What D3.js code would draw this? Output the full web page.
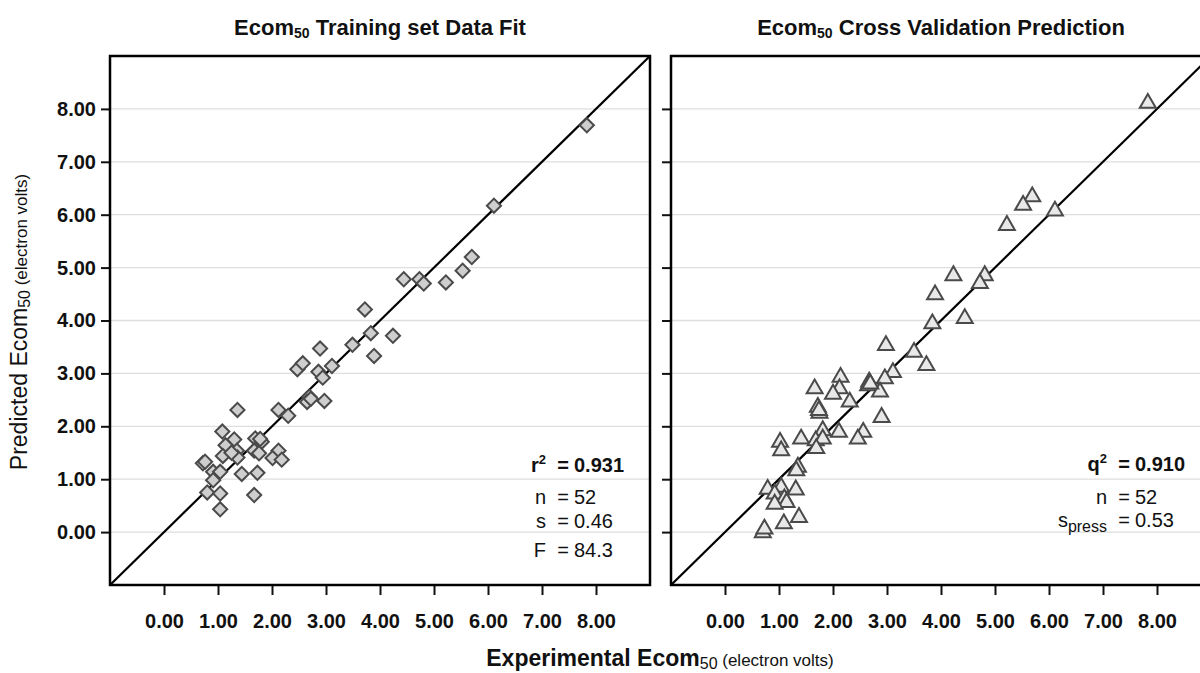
<!DOCTYPE html>
<html>
<head>
<meta charset="utf-8">
<script src="https://cdn.jsdelivr.net/npm/d3@7"></script>
<style>
    body { margin: 0; background: #ffffff; }
    svg { display: block; font-family: "Liberation Sans", Arial, sans-serif; }
</style>
</head>
<body>
<div id="chart"></div>
<script>
'use strict';

// training set fit: experimental vs predicted
const trainX = [7.83, 6.11, 5.70, 5.53, 5.22, 4.44, 4.73, 4.81, 3.72, 3.83, 4.24, 3.49, 3.89, 2.89, 2.47, 2.57, 3.11,
    2.86, 2.94, 2.69, 2.65, 2.97, 2.30, 2.12, 1.36, 1.08, 1.30, 1.14, 1.69, 1.81, 1.35, 1.09, 1.36, 1.67, 1.76,
    2.12, 2.01, 2.18, 0.72, 0.76, 0.91, 1.04, 1.44, 1.73, 0.91, 0.80, 1.04, 1.67, 1.04, 1.78, 1.25, 2.72];
const trainY = [7.69, 6.17, 5.20, 4.94, 4.72, 4.78, 4.78, 4.70, 4.21, 3.76, 3.71, 3.54, 3.33, 3.47, 3.08, 3.19, 3.14,
    3.03, 2.92, 2.56, 2.46, 2.48, 2.20, 2.31, 2.31, 1.90, 1.75, 1.64, 1.77, 1.71, 1.54, 1.44, 1.41, 1.54, 1.49,
    1.54, 1.40, 1.37, 1.30, 1.33, 1.14, 1.14, 1.10, 1.12, 0.98, 0.75, 0.73, 0.70, 0.43, 1.76, 1.50, 2.52];

// cross validation: experimental vs predicted
const cvX = [7.83, 6.11, 5.69, 5.52, 5.22, 4.23, 4.81, 4.72, 3.89, 4.44, 3.84, 2.98, 3.50, 3.73, 3.11, 2.96, 2.67,
    2.65, 2.87, 2.14, 2.12, 2.00, 2.31, 1.66, 1.72, 1.75, 2.90, 1.81, 2.11, 2.56, 2.46, 1.41, 1.68, 1.81, 1.69,
    1.02, 1.04, 1.35, 1.32, 0.79, 1.04, 0.92, 1.10, 1.14, 0.92, 1.31, 1.09, 1.37, 0.70, 0.73, 2.69, 1.74];
const cvY = [8.11, 6.07, 6.34, 6.18, 5.80, 4.85, 4.85, 4.70, 4.49, 4.04, 3.94, 3.53, 3.40, 3.15, 3.02, 2.90, 2.84,
    2.77, 2.65, 2.93, 2.71, 2.61, 2.46, 2.71, 2.36, 2.25, 2.17, 1.92, 1.89, 1.89, 1.76, 1.76, 1.73, 1.76, 1.58,
    1.70, 1.54, 1.23, 1.16, 0.81, 0.85, 0.72, 0.63, 0.56, 0.53, 0.80, 0.16, 0.28, -0.01, 0.06, 2.80, 2.30];

const tickValues = [0, 1, 2, 3, 4, 5, 6, 7, 8];
const axisDomain = [-1, 9];

const trainStats = [
    { label: "r", sup: "2", value: "0.931", bold: true },
    { label: "n", value: "52" },
    { label: "s", value: "0.46" },
    { label: "F", value: "84.3" }
];
const cvStats = [
    { label: "q", sup: "2", value: "0.910", bold: true },
    { label: "n", value: "52" },
    { label: "s", sub: "press", value: "0.53" }
];

const width = 1200, height = 673;
const svg = d3.select("#chart")
    .append("svg")
    .attr("width", width)
    .attr("height", height);

function drawPanel(cfg) {
    let x = d3.scaleLinear().domain(axisDomain).range([cfg.left, cfg.left + 540]);
    let y = d3.scaleLinear().domain(axisDomain).range([585, 56]);
    let g = svg.append("g").attr("id", cfg.id);

    // clip so the diagonal stays inside the frame
    g.append("clipPath")
        .attr("id", cfg.id + "-clip")
        .append("rect")
        .attr("x", x(-1)).attr("y", y(9))
        .attr("width", x(9) - x(-1)).attr("height", y(-1) - y(9));

    // horizontal gridlines
    g.append("g")
        .selectAll("line")
        .data(tickValues)
        .enter()
        .append("line")
        .attr("x1", x(-1)).attr("x2", x(9))
        .attr("y1", d => y(d)).attr("y2", d => y(d))
        .attr("stroke", "#dedede")
        .attr("stroke-width", 1.3);

    // title
    let title = g.append("text")
        .attr("x", (x(-1) + x(9)) / 2)
        .attr("y", 35)
        .attr("text-anchor", "middle")
        .attr("font-size", 22)
        .attr("font-weight", "bold")
        .attr("fill", "#111");
    title.append("tspan").text("Ecom");
    title.append("tspan").attr("font-size", 14).attr("dy", 3).text("50");
    title.append("tspan").attr("dy", -3).text(" " + cfg.title);

    // x axis
    let xAxis = g.append("g")
        .attr("transform", "translate(0," + y(-1) + ")")
        .call(d3.axisBottom(x).tickValues(tickValues).tickFormat(d3.format(".2f")).tickSize(10).tickPadding(19));
    // y axis
    let yAxis = g.append("g")
        .attr("transform", "translate(" + x(-1) + ",0)")
        .call(d3.axisLeft(y).tickValues(tickValues).tickFormat(d3.format(".2f")).tickSize(9).tickPadding(5));
    [xAxis, yAxis].forEach(a => {
        a.select(".domain").remove();
        a.selectAll(".tick line").attr("stroke", "#111").attr("stroke-width", 2);
        a.selectAll(".tick text")
            .attr("font-family", "Liberation Sans, Arial, sans-serif")
            .attr("font-size", 20)
            .attr("font-weight", "bold")
            .attr("fill", "#111");
    });
    if (!cfg.showYLabels) yAxis.selectAll(".tick text").remove();

    // identity line
    g.append("line")
        .attr("clip-path", "url(#" + cfg.id + "-clip)")
        .attr("x1", x(-1)).attr("y1", y(-1))
        .attr("x2", x(9)).attr("y2", y(9))
        .attr("stroke", "#000")
        .attr("stroke-width", 2.2);

    // points
    let pts = cfg.xs.map((v, i) => ({ x: v, y: cfg.ys[i] }));
    g.append("g")
        .selectAll("path")
        .data(pts)
        .enter()
        .append("path")
        .attr("d", cfg.symbol)
        .attr("transform", d => "translate(" + x(d.x) + "," + y(d.y) + ")" + cfg.rotate)
        .attr("fill", cfg.fill)
        .attr("stroke", "#4a4a4a")
        .attr("stroke-width", 2);

    // statistics block
    let stats = g.append("g").attr("font-size", 20).attr("fill", "#111");
    cfg.stats.forEach((s, i) => {
        let yy = cfg.statsY[i];
        let weight = s.bold ? "bold" : "normal";
        let lab = stats.append("text")
            .attr("x", cfg.labelRight).attr("y", yy)
            .attr("text-anchor", "end")
            .attr("font-weight", weight);
        lab.append("tspan").text(s.label);
        if (s.sup) lab.append("tspan").attr("font-size", 13).attr("dy", -8).text(s.sup);
        if (s.sub) lab.append("tspan").attr("font-size", 16).attr("dy", 5).text(s.sub);
        stats.append("text")
            .attr("x", cfg.labelRight + 17).attr("y", yy)
            .attr("text-anchor", "middle")
            .attr("font-weight", weight)
            .text("=");
        stats.append("text")
            .attr("x", cfg.labelRight + 28).attr("y", yy)
            .attr("font-weight", weight)
            .text(s.value);
    });

    // frame
    g.append("rect")
        .attr("x", x(-1)).attr("y", y(9))
        .attr("width", x(9) - x(-1)).attr("height", y(-1) - y(9))
        .attr("fill", "none")
        .attr("stroke", "#000")
        .attr("stroke-width", 2.5);
}

drawPanel({
    id: "train", left: 110, title: "Training set Data Fit",
    xs: trainX, ys: trainY, showYLabels: true,
    symbol: d3.symbol().type(d3.symbolSquare).size(100)(), rotate: " rotate(45)", fill: "#cecece",
    stats: trainStats, statsY: [472, 504, 528, 557], labelRight: 546
});
drawPanel({
    id: "cv", left: 671, title: "Cross Validation Prediction",
    xs: cvX, ys: cvY, showYLabels: false,
    symbol: d3.symbol().type(d3.symbolTriangle).size(110)(), rotate: "", fill: "#e8e8e8",
    stats: cvStats, statsY: [471, 504, 527], labelRight: 1107
});

// shared axis labels
let yLabel = svg.append("text")
    .attr("transform", "translate(27,322) rotate(-90)")
    .attr("text-anchor", "middle")
    .attr("font-size", 23)
    .attr("fill", "#111");
yLabel.append("tspan").text("Predicted Ecom");
yLabel.append("tspan").attr("font-size", 16).attr("dy", 3).text("50");
yLabel.append("tspan").attr("font-size", 17).attr("dy", -3).text(" (electron volts)");

let xLabel = svg.append("text")
    .attr("x", 660).attr("y", 666)
    .attr("text-anchor", "middle")
    .attr("font-size", 23)
    .attr("font-weight", "bold")
    .attr("fill", "#111");
xLabel.append("tspan").text("Experimental Ecom");
xLabel.append("tspan").attr("font-size", 16).attr("dy", 3).attr("font-weight", "normal").text("50");
xLabel.append("tspan").attr("font-size", 17).attr("dy", -3).attr("font-weight", "normal").text(" (electron volts)");
</script>
</body>
</html>
